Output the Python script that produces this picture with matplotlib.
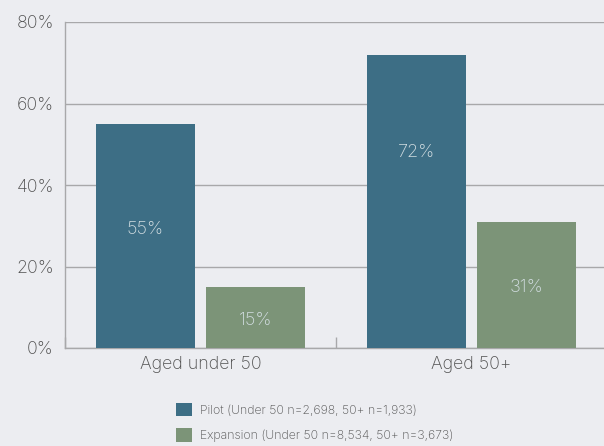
import numpy as np
import matplotlib.pyplot as plt

# Share of respondents by age group
groups = ['Aged under 50', 'Aged 50+']
pilot = [55, 72]
expansion = [15, 31]
series_labels = ['Pilot (Under 50 n=2,698, 50+ n=1,933)',
                 'Expansion (Under 50 n=8,534, 50+ n=3,673)']

bg = '#ECEDF1'
pilot_color = '#3D6E85'
exp_color = '#7C9478'
text_color = '#505050'
grid_color = '#A8A8AA'

plt.rcParams['font.family'] = ['Inter', 'DejaVu Sans']
plt.rcParams['font.weight'] = 'light'

fig = plt.figure(figsize=(6.04, 4.46), dpi=100, facecolor=bg)
ax = fig.add_axes([65 / 604, 1 - 348 / 446, 542 / 604, 326 / 446])
ax.set_facecolor(bg)

centers = np.arange(len(groups)) + 0.5
width = 0.362
b1 = ax.bar(centers - 0.203, pilot, width, color=pilot_color, zorder=3, label=series_labels[0])
b2 = ax.bar(centers + 0.203, expansion, width, color=exp_color, zorder=3, label=series_labels[1])

# value labels: centred in short bars, pushed up in tall ones
for bars, vals in ((b1, pilot), (b2, expansion)):
    for bar, v in zip(bars, vals):
        ax.text(bar.get_x() + bar.get_width() / 2, max(v / 2 - 0.7, 1.11 * v - 32), f'{v}%',
                ha='center', va='center', color='#D3DEE2', fontsize=13,
                fontweight='light', zorder=4)

ax.set_xlim(0, 2)
ax.set_ylim(0, 80)
ax.set_yticks([0, 20, 40, 60, 80])
ax.set_yticklabels([f'{v}%' for v in [0, 20, 40, 60, 80]])
ax.yaxis.grid(True, color=grid_color, linewidth=1, zorder=0)
ax.tick_params(axis='y', length=0, pad=8, labelsize=12.8, labelcolor=text_color)

ax.set_xticks(centers)
ax.set_xticklabels(groups)
ax.set_xticks([0, 1, 2], minor=True)
ax.tick_params(axis='x', which='major', length=0, pad=6, labelsize=12.8, labelcolor=text_color)
ax.tick_params(axis='x', which='minor', direction='in', length=8, color=grid_color, width=1)

for side in ('top', 'right'):
    ax.spines[side].set_visible(False)
for side in ('left', 'bottom'):
    ax.spines[side].set_color(grid_color)
    ax.spines[side].set_linewidth(1)

fig.legend(handles=[b1, b2], loc='upper left', bbox_to_anchor=(165 / 604, 1 - 392 / 446),
           frameon=False, fontsize=8.8, labelcolor=text_color,
           handlelength=1.3, handleheight=1.3, handletextpad=0.7, labelspacing=0.95)

fig.savefig('out.png', dpi=100, facecolor=bg)
